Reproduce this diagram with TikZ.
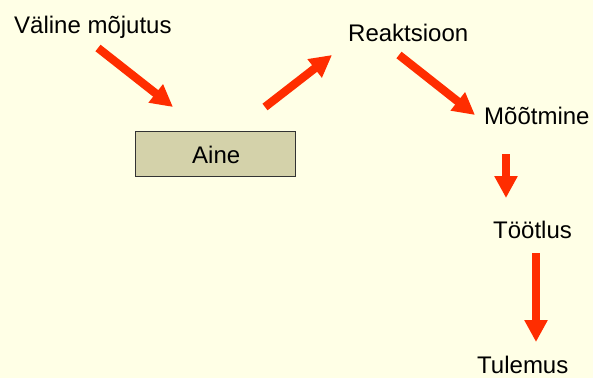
\documentclass[tikz,border=0pt]{standalone}
\usepackage{fontspec}
\setmainfont{Liberation Sans}
\usetikzlibrary{arrows.meta}
\definecolor{bgyellow}{RGB}{255,255,230}
\definecolor{arrred}{RGB}{255,45,0}
\definecolor{boxfill}{RGB}{212,210,170}
\tikzset{
  lbl/.style={inner sep=0pt, anchor=base west, font=\fontsize{24}{28}\selectfont},
  redarrow/.style={draw=arrred, line width=8.3pt, -{Triangle[width=22pt,length=22pt]}},
  boxnode/.style={draw=black!80, line width=1pt, fill=boxfill, minimum width=160pt, minimum height=45pt, inner sep=0pt}
}
\begin{document}
\begin{tikzpicture}[x=1pt,y=-1pt]
\fill[bgyellow] (0,0) rectangle (593,378);
\useasboundingbox (0,0) rectangle (593,378);
\node[lbl] (valine) at (14,33) {Väline mõjutus};
\node[boxnode] (aine) at (215,153.5) {};
\node[lbl] (ainet) at (192,163) {Aine};
\node[lbl] (reakt) at (348,41) {Reaktsioon};
\node[lbl] (mootm) at (484,124) {Mõõtmine};
\node[lbl] (tootl) at (493,238) {Töötlus};
\node[lbl] (tulem) at (477,373) {Tulemus};
\coordinate (a1s) at (98,48);
\coordinate (a1e) at (173,107);
\coordinate (a2s) at (265,107);
\coordinate (a2e) at (332,55);
\coordinate (a3s) at (399,55);
\coordinate (a3e) at (475,115);
\coordinate (a4s) at (506,154);
\coordinate (a4e) at (506,198);
\coordinate (a5s) at (536,253);
\coordinate (a5e) at (536,342);
\draw[redarrow] (a1s) -- (a1e);
\draw[redarrow] (a2s) -- (a2e);
\draw[redarrow] (a3s) -- (a3e);
\draw[redarrow] (a4s) -- (a4e);
\draw[redarrow] (a5s) -- (a5e);
\end{tikzpicture}
\end{document}
